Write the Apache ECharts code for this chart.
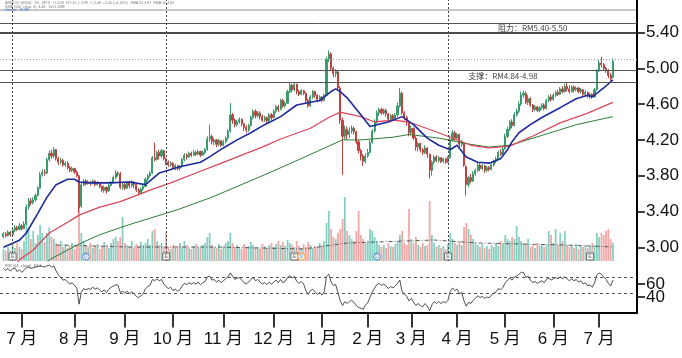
<!DOCTYPE html>
<html><head><meta charset="utf-8">
<script src="https://cdn.jsdelivr.net/npm/echarts@6/dist/echarts.min.js"></script>
<style>html,body{margin:0;padding:0;background:#fff}#c{width:682px;height:358px}</style>
</head><body><div id="c"></div>
<script>
// daily candles [open, close, low, high]
const candles = [
[3.12,3.15,3.10,3.17],[3.15,3.13,3.11,3.17],[3.13,3.17,3.12,3.19],[3.17,3.14,3.12,3.18],[3.14,3.19,3.13,3.21],
[3.19,3.22,3.17,3.25],[3.22,3.20,3.18,3.24],[3.20,3.24,3.19,3.27],[3.24,3.21,3.19,3.26],[3.21,3.26,3.20,3.29],
[3.26,3.45,3.25,3.48],[3.45,3.52,3.42,3.55],[3.52,3.50,3.47,3.55],[3.50,3.53,3.48,3.56],[3.53,3.58,3.51,3.60],
[3.58,3.66,3.57,3.68],[3.66,3.81,3.65,3.84],[3.81,3.84,3.79,3.87],[3.84,3.83,3.80,3.87],[3.83,3.98,3.82,4.00],
[3.98,4.05,3.96,4.08],[4.05,4.02,3.99,4.09],[4.02,4.09,4.00,4.12],[4.09,3.99,3.97,4.10],[3.99,3.95,3.92,4.01],
[3.95,3.97,3.93,4.00],[3.97,3.92,3.90,3.99],[3.92,3.94,3.90,3.96],[3.94,3.89,3.87,3.96],[3.89,3.86,3.84,3.91],
[3.86,3.88,3.84,3.90],[3.88,3.84,3.82,3.89],[3.84,3.80,3.78,3.86],[3.80,3.44,3.38,3.81],[3.46,3.70,3.44,3.72],
[3.70,3.74,3.68,3.76],[3.74,3.71,3.69,3.76],[3.71,3.73,3.70,3.75],[3.73,3.72,3.69,3.74],[3.72,3.74,3.70,3.76],
[3.74,3.70,3.68,3.75],[3.70,3.72,3.69,3.74],[3.72,3.68,3.66,3.73],[3.68,3.64,3.62,3.69],[3.64,3.67,3.61,3.69],
[3.67,3.63,3.60,3.68],[3.63,3.69,3.62,3.71],[3.69,3.72,3.68,3.74],[3.72,3.78,3.71,3.80],[3.78,3.83,3.76,3.86],
[3.83,3.82,3.79,3.85],[3.82,3.67,3.65,3.84],[3.67,3.70,3.64,3.72],[3.70,3.66,3.64,3.72],[3.66,3.72,3.65,3.74],
[3.72,3.69,3.66,3.74],[3.69,3.73,3.67,3.75],[3.73,3.70,3.66,3.74],[3.70,3.64,3.62,3.71],[3.64,3.61,3.58,3.66],
[3.61,3.65,3.60,3.67],[3.65,3.68,3.63,3.70],[3.68,3.76,3.67,3.78],[3.76,3.80,3.74,3.82],[3.80,3.83,3.78,3.85],
[3.83,4.00,3.82,4.02],[4.00,3.98,3.96,4.17],[3.98,4.06,3.97,4.08],[4.06,4.02,3.98,4.09],[4.02,4.08,4.00,4.10],
[4.08,3.99,3.97,4.09],[3.99,3.95,3.92,4.00],[3.95,3.92,3.90,3.97],[3.92,3.94,3.90,3.96],[3.94,3.89,3.87,3.95],
[3.89,3.91,3.86,3.93],[3.91,3.88,3.86,3.92],[3.88,3.90,3.86,3.92],[3.90,3.98,3.89,4.00],[3.98,4.03,3.96,4.05],
[4.03,4.01,3.98,4.05],[4.01,4.05,4.00,4.07],[4.05,4.03,4.01,4.07],[4.03,4.06,4.02,4.09],[4.06,4.04,4.02,4.08],
[4.04,4.07,4.03,4.09],[4.07,4.03,4.01,4.08],[4.03,4.06,4.02,4.08],[4.06,4.09,4.04,4.11],[4.09,4.21,4.08,4.24],
[4.21,4.24,4.18,4.37],[4.24,4.18,4.15,4.26],[4.18,4.20,4.14,4.22],[4.20,4.15,4.12,4.21],[4.15,4.19,4.13,4.21],
[4.19,4.14,4.12,4.20],[4.14,4.18,4.13,4.20],[4.18,4.22,4.16,4.24],[4.22,4.30,4.20,4.32],[4.30,4.48,4.28,4.61],
[4.48,4.42,4.38,4.50],[4.42,4.37,4.34,4.44],[4.37,4.40,4.35,4.42],[4.40,4.43,4.38,4.45],[4.43,4.38,4.35,4.44],
[4.38,4.34,4.30,4.39],[4.34,4.31,4.28,4.36],[4.31,4.36,4.29,4.38],[4.36,4.45,4.35,4.47],[4.45,4.52,4.43,4.54],
[4.52,4.47,4.44,4.54],[4.47,4.50,4.45,4.52],[4.50,4.46,4.43,4.52],[4.46,4.42,4.40,4.48],[4.42,4.45,4.40,4.47],
[4.45,4.41,4.39,4.46],[4.41,4.48,4.40,4.50],[4.48,4.45,4.42,4.50],[4.45,4.52,4.44,4.54],[4.52,4.57,4.50,4.59],
[4.57,4.54,4.51,4.59],[4.54,4.64,4.53,4.66],[4.64,4.58,4.56,4.66],[4.58,4.61,4.56,4.63],[4.61,4.74,4.60,4.76],
[4.74,4.81,4.72,4.84],[4.81,4.76,4.73,4.83],[4.76,4.82,4.74,4.84],[4.82,4.74,4.71,4.83],[4.74,4.71,4.69,4.76],
[4.71,4.75,4.70,4.77],[4.75,4.72,4.70,4.76],[4.72,4.64,4.61,4.73],[4.64,4.58,4.56,4.66],[4.58,4.68,4.57,4.70],
[4.68,4.74,4.66,4.76],[4.74,4.70,4.67,4.75],[4.70,4.65,4.62,4.71],[4.65,4.68,4.63,4.70],[4.68,4.64,4.62,4.69],
[4.64,4.70,4.63,4.72],[4.70,5.10,4.69,5.13],[5.10,5.16,5.07,5.20],[5.16,5.00,4.97,5.18],[5.00,4.94,4.90,5.02],
[4.94,4.96,4.90,4.99],[4.96,4.78,4.75,4.98],[4.78,4.42,4.38,4.80],[4.42,4.24,3.81,4.45],[4.24,4.32,4.20,4.36],
[4.32,4.26,4.20,4.35],[4.26,4.30,4.22,4.34],[4.30,4.33,4.27,4.36],[4.33,4.29,4.26,4.35],[4.29,4.18,4.15,4.30],
[4.18,4.08,4.05,4.20],[4.08,4.02,3.97,4.10],[4.02,3.96,3.91,4.04],[3.96,4.02,3.94,4.05],[4.02,4.06,4.00,4.10],
[4.06,4.17,4.05,4.20],[4.17,4.30,4.16,4.32],[4.30,4.40,4.28,4.43],[4.40,4.50,4.38,4.53],[4.50,4.54,4.47,4.56],
[4.54,4.50,4.48,4.56],[4.50,4.53,4.48,4.55],[4.53,4.49,4.46,4.55],[4.49,4.43,4.40,4.50],[4.43,4.47,4.41,4.49],
[4.47,4.44,4.41,4.49],[4.44,4.48,4.42,4.50],[4.48,4.58,4.46,4.62],[4.58,4.72,4.56,4.78],[4.72,4.50,4.48,4.74],
[4.50,4.45,4.42,4.52],[4.45,4.40,4.36,4.47],[4.40,4.28,4.24,4.41],[4.28,4.33,4.25,4.36],[4.33,4.22,4.20,4.34],
[4.22,4.12,4.08,4.24],[4.12,4.16,4.07,4.18],[4.16,4.09,4.06,4.17],[4.09,4.06,4.03,4.11],[4.06,4.11,4.04,4.14],
[4.11,4.04,4.00,4.12],[4.04,3.86,3.77,4.05],[3.86,3.95,3.80,3.97],[3.95,4.01,3.93,4.03],[4.01,3.97,3.95,4.03],
[3.97,4.00,3.95,4.02],[4.00,3.96,3.94,4.01],[3.96,3.99,3.94,4.00],[3.99,3.95,3.93,4.00],[3.95,4.00,3.94,4.02],
[4.00,4.20,3.99,4.25],[4.20,4.28,4.18,4.31],[4.28,4.22,4.19,4.30],[4.22,4.26,4.20,4.28],[4.26,4.15,4.12,4.27],
[4.15,4.18,4.12,4.20],[4.16,3.92,3.90,4.17],[3.90,3.70,3.58,3.92],[3.70,3.78,3.67,3.80],[3.78,3.74,3.72,3.82],
[3.74,3.82,3.73,3.85],[3.82,3.86,3.80,3.88],[3.86,3.92,3.84,3.94],[3.92,3.88,3.85,3.94],[3.88,3.91,3.86,3.93],
[3.91,3.86,3.83,3.92],[3.86,3.89,3.84,3.91],[3.89,3.87,3.85,3.91],[3.87,3.92,3.86,3.94],[3.92,3.96,3.90,3.98],
[3.96,3.99,3.94,4.01],[3.99,4.06,3.98,4.08],[4.06,4.04,4.02,4.10],[4.04,4.10,4.03,4.12],[4.10,4.24,4.09,4.27],
[4.24,4.32,4.22,4.35],[4.32,4.40,4.30,4.42],[4.40,4.36,4.33,4.43],[4.36,4.48,4.35,4.51],[4.48,4.52,4.46,4.55],
[4.52,4.60,4.50,4.63],[4.60,4.70,4.58,4.74],[4.70,4.72,4.67,4.75],[4.72,4.62,4.60,4.74],[4.62,4.66,4.59,4.70],
[4.66,4.59,4.57,4.68],[4.59,4.54,4.51,4.60],[4.54,4.57,4.52,4.59],[4.57,4.53,4.51,4.58],[4.53,4.56,4.51,4.58],
[4.56,4.59,4.54,4.61],[4.59,4.55,4.53,4.61],[4.55,4.64,4.54,4.66],[4.64,4.68,4.62,4.70],[4.68,4.65,4.63,4.71],
[4.65,4.70,4.64,4.72],[4.70,4.73,4.68,4.75],[4.73,4.71,4.69,4.76],[4.71,4.77,4.70,4.79],[4.77,4.74,4.72,4.80],
[4.74,4.80,4.73,4.83],[4.80,4.77,4.74,4.84],[4.77,4.74,4.72,4.81],[4.74,4.79,4.73,4.81],[4.79,4.76,4.73,4.81],
[4.76,4.78,4.74,4.80],[4.78,4.74,4.72,4.79],[4.74,4.76,4.72,4.78],[4.76,4.71,4.69,4.77],[4.71,4.73,4.69,4.75],
[4.73,4.69,4.67,4.74],[4.69,4.71,4.66,4.73],[4.71,4.68,4.66,4.72],[4.68,4.76,4.67,4.78],[4.76,4.97,4.75,4.99],
[4.97,5.06,4.96,5.09],[5.06,5.04,5.01,5.13],[5.04,5.00,4.97,5.06],[5.00,4.97,4.95,5.02],[4.97,4.92,4.89,4.99],
[4.92,4.88,4.86,4.95],[4.90,5.08,4.89,5.11]
];
const volumes = [
12,10,14,11,16,13,18,14,12,20, 40,32,22,30,18,26,36,28,19,28, 33,24,22,18,16,20,14,17,13,15,
18,12,16,54,28,20,16,14,18,13, 15,17,12,14,19,16,13,18,22,24, 20,24,44,18,16,14,20,13,17,15,
19,16,18,22,16,30,32,20,16,18, 14,30,14,12,16,13,15,18,14,20, 16,13,12,15,17,14,13,16,18,24,
28,16,14,13,17,12,15,18,20,28, 18,14,16,13,12,17,14,15,19,16, 13,14,12,17,15,13,16,18,14,17,
20,16,19,15,21,18,16,14,20,15, 13,17,14,19,16,13,15,14,18,16, 20,38,50,32,24,22,28,32,42,64,
30,26,22,20,30,50,26,22,18,20, 32,30,24,20,16,14,16,13,18,15, 14,17,20,26,30,18,16,52,22,18,
24,16,14,18,15,16,60,26,18,14, 16,13,15,12,17,28,22,18,16,20, 16,34,38,32,26,22,18,16,14,17,
13,15,12,16,14,18,15,20,17,26, 22,20,24,22,35,24,20,18,16,22, 14,16,13,18,15,17,14,16,30,26,
18,32,16,28,20,30,16,14,16,13, 17,12,15,14,16,13,15,18,16,28, 24,28,26,30,32,22,18
];
const rsi = [
84,81,84,80,83,85,79,82,78,81, 85,86,84,85,86,87,88,87,86,88, 89,86,88,80,74,70,66,67,63,60,
62,58,54,29,47,53,51,53,52,55, 52,54,51,48,51,47,52,55,57,59, 58,47,49,46,49,45,48,45,41,39,
42,45,53,56,58,67,65,68,65,67, 60,56,53,55,50,52,49,51,57,61, 59,62,60,62,60,63,59,62,64,71,
72,66,67,63,66,62,65,68,71,77, 72,67,69,70,66,62,60,63,67,70, 65,67,63,60,62,59,63,60,63,66,
62,67,62,64,70,73,69,72,64,61, 64,60,50,44,50,52,48,44,47,43, 48,72,75,63,58,59,47,34,27,33,
30,33,35,32,27,24,23,21,28,31, 40,48,54,59,61,58,60,57,53,56, 54,57,61,66,48,45,41,34,38,32,
27,30,27,25,30,26,19,28,33,30, 33,30,33,31,35,49,54,50,52,45, 47,34,26,32,30,35,38,42,39,41,
38,40,39,43,46,48,53,51,55,62, 66,69,66,71,72,75,78,78,70,72, 66,62,64,61,63,65,62,67,69,66,
68,70,68,71,68,71,68,65,68,65, 67,63,65,60,62,57,59,55,62,74, 77,75,71,67,61,57,66
];
// moving averages read at [day index, value]
const maBlue = [[1,3.00],[8,3.08],[11,3.16],[16,3.38],[20,3.56],[24,3.70],[29,3.76],[32,3.76],[34,3.73],[39,3.72],[47,3.72],[56,3.73],[63,3.70],[69,3.83],[78,3.90],[87,3.95],[91,4.01],[97,4.11],[103,4.20],[109,4.28],[115,4.37],[122,4.46],[129,4.59],[139,4.64],[144,4.74],[146,4.77],[148,4.74],[151,4.67],[157,4.48],[161,4.35],[164,4.37],[169,4.40],[175,4.46],[180,4.37],[186,4.22],[191,4.14],[196,4.09],[199,4.14],[203,4.01],[208,3.95],[213,3.94],[218,3.99],[221,4.09],[223,4.18],[226,4.28],[231,4.37],[236,4.45],[244,4.56],[251,4.66],[256,4.70],[258,4.68],[263,4.78],[267,4.87]];
const maRed = [[6,2.80],[8,2.86],[14,2.97],[21,3.16],[29,3.28],[34,3.36],[43,3.45],[52,3.51],[58,3.57],[65,3.64],[74,3.72],[85,3.83],[97,3.95],[105,4.03],[114,4.12],[122,4.21],[135,4.33],[143,4.45],[148,4.51],[157,4.46],[163,4.40],[171,4.42],[178,4.40],[191,4.28],[205,4.14],[213,4.11],[222,4.13],[231,4.23],[244,4.39],[256,4.50],[267,4.62]];
const maGreen = [[19,2.80],[21,2.86],[29,2.97],[36,3.06],[43,3.14],[52,3.22],[58,3.27],[77,3.42],[92,3.56],[115,3.81],[130,3.98],[149,4.20],[157,4.20],[171,4.23],[178,4.26],[191,4.22],[205,4.15],[213,4.12],[222,4.14],[236,4.25],[251,4.37],[267,4.46]];
const volMA = [[24,16],[56,14],[94,14],[132,12],[151,18],[189,21],[208,18],[246,16],[267,14]];
const monthLabels = ['7 月','8 月','9 月','10 月','11 月','12 月','1 月','2 月','3 月','4 月','5 月','6 月','7 月'];
const monthIdx = [9,32,54,75,97,119,140,160,179,199,220,241,261];
const priceTicks = [3.00,3.40,3.80,4.20,4.60,5.00,5.40];
const rsiTickUpper = [60];
const rsiTickLower = [40];
const resistance = [5.40,5.50];
const support = [4.84,4.98];
const recentHigh = 5.10;
const rsiBands = [70.8,46.2];
const dividers = [5,72,195];
const eventSquares = [5,72,128,195,257];
const eventCircles = [[37,'#3b6fd6'],[131,'#f0a020'],[164,'#3b6fd6']];

const NCAT = 278;
const cats = []; for (let i = 0; i < NCAT; i++) cats.push('d' + i);
const candleData = [['-','-','-','-']].concat(candles);
const UP = '#3a9b6d', DOWN = '#c4403e';
const volData = [{value:'-'}].concat(volumes.map((v, k) => ({
  value: v, itemStyle: {color: candles[k][1] >= candles[k][0] ? '#86cfc1' : '#f4a7a7'}
})));
const rsiData = ['-'].concat(rsi);
const isMonth = (i) => monthIdx.indexOf(i) >= 0;
const FONT = '"Liberation Sans", "Noto Sans CJK SC", sans-serif';
const rsiAxis = (ticks, showLine) => ({
  gridIndex: 2, type: 'value', position: 'right', offset: 0, min: 16.2, max: 95.4, scale: true,
  splitLine: {show: false},
  axisLine: {show: showLine, lineStyle: {color: '#000', width: 2}},
  axisTick: {show: true, length: 8, customValues: ticks, lineStyle: {color: '#000', width: 1.5}},
  axisLabel: {customValues: ticks, fontSize: 17, color: '#111', margin: 9, fontFamily: FONT}
});

const chart = echarts.init(document.getElementById('c'), null, {renderer: 'canvas'});
chart.setOption({
  animation: false,
  backgroundColor: '#fff',
  grid: [
    {left: 0, top: 0, width: 637, height: 261},
    {left: 0, top: 195, width: 637, height: 66},
    {left: 0, top: 261, width: 637, height: 51.5}
  ],
  xAxis: [
    {gridIndex: 0, type: 'category', data: cats, show: false},
    {gridIndex: 1, type: 'category', data: cats, show: false},
    {gridIndex: 2, type: 'category', data: cats,
     axisLine: {onZero: false, lineStyle: {color: '#000', width: 2}},
     axisTick: {show: true, alignWithLabel: true, interval: (i) => isMonth(i), length: 15, lineStyle: {color: '#000', width: 1.6}},
     axisLabel: {interval: (i) => isMonth(i), formatter: (v, i) => { const k = monthIdx.indexOf(i); return k >= 0 ? monthLabels[k] : ''; },
                 fontSize: 17, color: '#111', margin: 18, fontFamily: FONT},
     splitLine: {show: false}}
  ],
  yAxis: [
    {gridIndex: 0, type: 'value', position: 'right', min: 2.847, max: 5.763, scale: true,
     splitLine: {show: false},
     axisLine: {show: true, lineStyle: {color: '#000', width: 2}},
     axisTick: {show: true, length: 8, customValues: priceTicks, lineStyle: {color: '#000', width: 1.5}},
     axisLabel: {customValues: priceTicks, formatter: (v) => v.toFixed(2), fontSize: 17, color: '#111', margin: 9, fontFamily: FONT}},
    {gridIndex: 1, type: 'value', min: 0, max: 66, show: false},
    rsiAxis(rsiTickUpper, true),
    rsiAxis(rsiTickLower, false)
  ],
  series: [
    {type: 'bar', xAxisIndex: 1, yAxisIndex: 1, data: volData, barWidth: 1.8, z: 1, silent: true},
    {type: 'line', xAxisIndex: 1, yAxisIndex: 1, data: volMA, showSymbol: false, z: 1,
     lineStyle: {color: '#333', width: 0.8, type: [4, 2, 1, 2]}},
    {type: 'scatter', xAxisIndex: 1, yAxisIndex: 1, data: eventSquares.map(i => [i, 4.5]), symbol: 'rect', symbolSize: 7, z: 5,
     itemStyle: {color: '#fff', borderColor: '#555', borderWidth: 1},
     label: {show: true, formatter: 'E', fontSize: 5, color: '#555', position: 'inside'}},
    {type: 'scatter', xAxisIndex: 1, yAxisIndex: 1, data: eventCircles.map(e => ({value: [e[0], 4.5], itemStyle: {borderColor: e[1]}})),
     symbol: 'circle', symbolSize: 7, z: 5,
     itemStyle: {color: '#fff', borderWidth: 1},
     label: {show: true, formatter: 'D', fontSize: 5, color: '#3b6fd6', position: 'inside'}},
    {type: 'candlestick', xAxisIndex: 0, yAxisIndex: 0, data: candleData, barWidth: 1.6, z: 3,
     itemStyle: {color: UP, color0: DOWN, borderColor: UP, borderColor0: DOWN, borderWidth: 1},
     markLine: {silent: true, symbol: ['none', 'none'], label: {show: false}, animation: false,
       data: [
         {yAxis: resistance[1], lineStyle: {color: '#555', width: 1, type: 'solid'}},
         {yAxis: resistance[0], lineStyle: {color: '#111', width: 1.6, type: 'solid'}},
         {yAxis: support[1], lineStyle: {color: '#555', width: 1, type: 'solid'}},
         {yAxis: support[0], lineStyle: {color: '#555', width: 1, type: 'solid'}},
         {yAxis: recentHigh, lineStyle: {color: '#999', width: 1, type: [1, 2]}}
       ].concat(dividers.map(i => ({xAxis: i, lineStyle: {color: '#444', width: 1, type: [2, 2]}})))},
     markArea: {silent: true, itemStyle: {color: 'rgba(0,0,0,0)'},
       label: {show: true, position: 'inside', color: '#444', fontSize: 8, fontFamily: '"Noto Sans CJK SC", sans-serif'},
       data: [
         [{name: '阻力：RM5.40-5.50', xAxis: 187, yAxis: resistance[1]}, {xAxis: 277, yAxis: resistance[0]}],
         [{name: '支撑：RM4.84-4.98', xAxis: 161, yAxis: support[1]}, {xAxis: 277, yAxis: support[0]}]
       ]}},
    {type: 'line', xAxisIndex: 0, yAxisIndex: 0, data: maGreen, showSymbol: false, z: 4, clip: true,
     lineStyle: {color: '#2f7d38', width: 1}},
    {type: 'line', xAxisIndex: 0, yAxisIndex: 0, data: maRed, showSymbol: false, z: 4, clip: true,
     lineStyle: {color: '#d9475a', width: 1.3}},
    {type: 'line', xAxisIndex: 0, yAxisIndex: 0, data: maBlue, showSymbol: false, z: 4, clip: true,
     lineStyle: {color: '#1c2a9e', width: 1.6}},
    {type: 'line', xAxisIndex: 2, yAxisIndex: 2, data: rsiData, showSymbol: false, z: 4,
     lineStyle: {color: '#222', width: 0.8},
     markLine: {silent: true, symbol: ['none', 'none'], label: {show: false}, animation: false,
       data: rsiBands.map(v => ({yAxis: v, lineStyle: {color: '#555', width: 1, type: [3, 3]}}))}}
  ],
  graphic: [
    {type: 'line', shape: {x1: 0, y1: 10, x2: 637, y2: 10}, style: {stroke: '#777', lineWidth: 0.8}, silent: true},
    {type: 'text', left: 5, top: 1, silent: true, style: {text: 'ANNJOO (6556) · 1D · MYX   O 4.90  H 5.11  L 4.89  C 5.08  +0.20 (+4.10%)   SMA 20 4.87  SMA 50 4.62', fontSize: 3.6, fill: '#777'}},
    {type: 'text', left: 5, top: 5, silent: true, style: {text: 'SMA (100, close, 0)  4.46   Vol 1.28M', fontSize: 3.6, fill: '#777'}},
    {type: 'text', left: 5, top: 8.3, silent: true, style: {text: 'Volume  19.3M', fontSize: 3.6, fill: '#3b6fd6'}},
    {type: 'text', left: 5, top: 264, silent: true, style: {text: 'RSI (14, close)  63.1', fontSize: 4, fill: '#666'}}
  ]
});
</script>
</body></html>
